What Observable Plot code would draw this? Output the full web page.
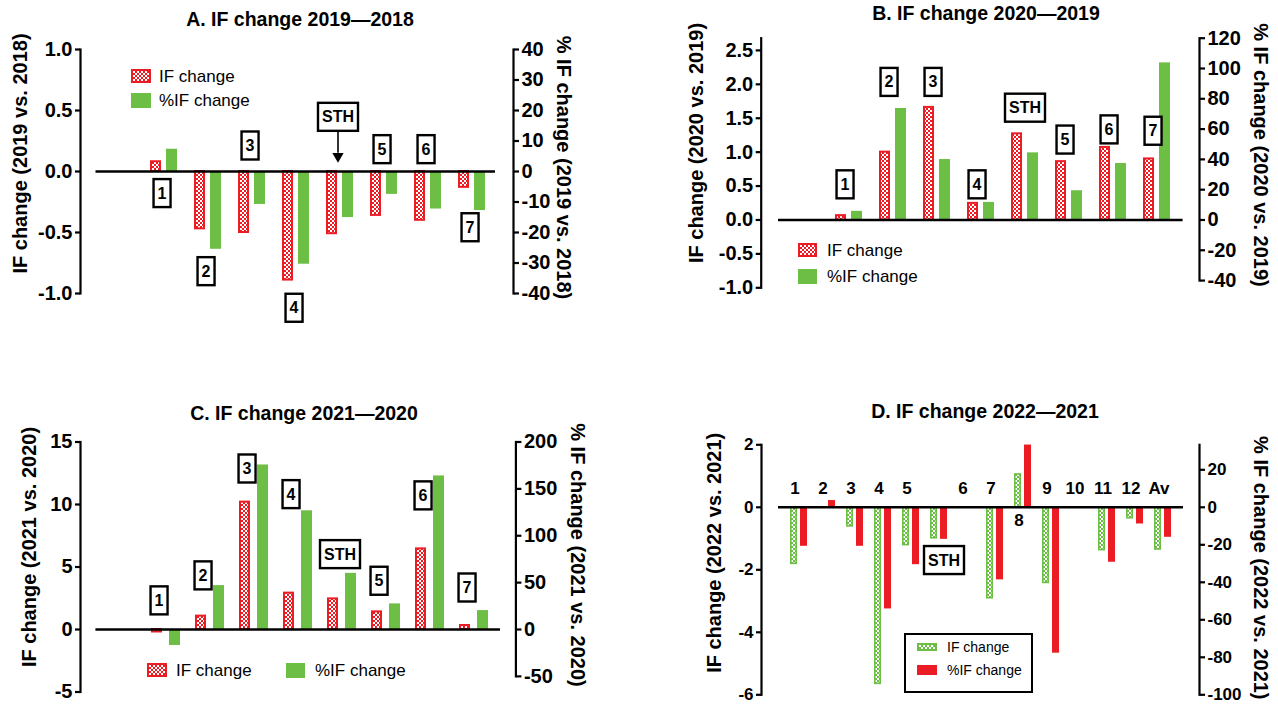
<!DOCTYPE html>
<html><head><meta charset="utf-8">
<script src="https://cdn.jsdelivr.net/npm/d3@7"></script>
<script src="https://cdn.jsdelivr.net/npm/@observablehq/plot@0.6"></script>
<style>
body{margin:0;background:#fff;font-family:"Liberation Sans",Arial,Helvetica,sans-serif;color:#000;}
#page{position:relative;width:1278px;height:706px;overflow:hidden;background:#fff;}
.title{position:absolute;font-weight:bold;font-size:19.5px;white-space:nowrap;transform:translate(-50%,-50%);line-height:1;}
.panel{position:absolute;}
.sw{position:absolute;}
.lt{position:absolute;white-space:nowrap;transform:translateY(-50%);line-height:1;}
</style></head><body>
<svg width="0" height="0" style="position:absolute">
<defs>
<pattern id="chkRed" patternUnits="userSpaceOnUse" width="4" height="4">
<rect width="4" height="4" fill="#ec1c24"/><rect width="2" height="2" fill="#fff"/><rect x="2" y="2" width="2" height="2" fill="#fff"/>
</pattern>
<pattern id="chkGreen" patternUnits="userSpaceOnUse" width="4" height="4">
<rect width="4" height="4" fill="#6cbe45"/><rect width="2" height="2" fill="#fff"/><rect x="2" y="2" width="2" height="2" fill="#fff"/>
</pattern>
</defs></svg>
<div id="page"></div>
<script>
// ---------------- DATA ----------------
// Panel A: IF change 2019—2018
const catsA = ["1","2","3","4","STH","5","6","7"];
const ifChangeA = [0.08,-0.47,-0.50,-0.89,-0.51,-0.36,-0.40,-0.13];
const pctChangeA = [7.3,-25.5,-10.8,-30.4,-15.1,-7.5,-12.3,-12.8];
const boxYA = [-0.18,-0.82,0.21,-1.12,0.445,0.18,0.18,-0.46];
const leftTicksA = [-1,-0.5,0,0.5,1];
const rightTicksA = [-40,-30,-20,-10,0,10,20,30,40];
const arrowA = [{c:"STH", from:0.335, to:0.09}];

// Panel B: IF change 2020—2019
const catsB = ["1","2","3","4","STH","5","6","7"];
const ifChangeB = [0.064,1.00,1.66,0.245,1.27,0.86,1.07,0.90];
const pctChangeB = [5.7,73.6,39.9,11.6,44.3,19.3,37.3,103.7];
const boxYB = [0.52,2.03,2.03,0.52,1.65,1.18,1.33,1.31];
const leftTicksB = [-1,-0.5,0,0.5,1,1.5,2,2.5];
const rightTicksB = [-40,-20,0,20,40,60,80,100,120];

// Panel C: IF change 2021—2020
const catsC = ["1","2","3","4","STH","5","6","7"];
const ifChangeC = [-0.2,1.07,10.19,2.91,2.45,1.41,6.45,0.32];
const pctChangeC = [-17,46.8,175.5,126.6,59.9,27.3,163.8,20.2];
const boxYC = [2.3,4.3,12.85,10.8,6.0,3.87,10.7,3.33];
const leftTicksC = [-5,0,5,10,15];
const rightTicksC = [-50,0,50,100,150,200];

// Panel D: IF change 2022—2021
const catsD = ["1","2","3","4","5","STH","6","7","8","9","10","11","12","Av"];
const ifChangeD = [-1.81,null,-0.61,-5.65,-1.21,-0.99,null,-2.91,1.05,-2.42,null,-1.37,-0.35,-1.35];
const pctChangeD = [-20.8,3.6,-20.8,-54.2,-30.6,-17.1,null,-38.7,33.2,-77.8,null,-29.3,-8.9,-16];
const numLabelsD = ["1","2","3","4","5",null,"6","7","8","9","10","11","12","Av"];
const numLabelYD = [0.6,0.6,0.6,0.6,0.6,null,0.6,0.6,-0.42,0.6,0.6,0.6,0.6,0.6];
const boxYD = [null,null,null,null,null,-1.7,null,null,null,null,null,null,null,null];
const leftTicksD = [-6,-4,-2,0,2];
const rightTicksD = [-100,-80,-60,-40,-20,0,20];

const RED = "#ec1c24", GREEN = "#6cbe45";
const FONT = "Liberation Sans, Arial, Helvetica, sans-serif";
const fmt1 = v => (v < 0 ? "-" : "") + Math.abs(v).toFixed(1);
const fmt0 = v => (Math.round(v) < 0 ? "-" : "") + Math.abs(Math.round(v));

const page = document.getElementById("page");

function makePanel(p) {
  const rows = p.cats.map((c, i) => ({
    c, a: p.ifv[i], b: p.pct[i] == null ? null : p.pct[i] / p.k,
    box: p.boxY ? p.boxY[i] : null,
    lab: p.numLabels ? p.numLabels[i] : null,
    labY: p.numLabelY ? p.numLabelY[i] : null
  }));
  const plotH = p.H - p.mT - p.mB;
  const pxPerUnit = plotH / (p.y[1] - p.y[0]);
  const rightBottom = d3.min(p.rightTicks) / p.k;
  const rightInsetBottom = Math.max(0, (rightBottom - p.y[0]) * pxPerUnit);
  const marks = [
    Plot.barY(rows.filter(d => d.a != null), {x: "c", y: "a", dx: p.offA, fill: p.fillA, stroke: p.strokeA, strokeWidth: p.sw, insetLeft: p.sw/2, insetRight: p.sw/2}),
    Plot.barY(rows.filter(d => d.b != null), {x: "c", y: "b", dx: p.offB, fill: p.fillB}),
    Plot.ruleY([0], {insetLeft: p.xinL, insetRight: p.xinR, strokeWidth: 2.4, stroke: "black"}),
    Plot.frame({anchor: "left", strokeWidth: 2.2, stroke: "black"}),
    Plot.frame({anchor: "right", strokeWidth: 2.2, stroke: "black", insetBottom: rightInsetBottom}),
    Plot.axisY(p.leftTicks, {anchor: "left", tickSize: 5, tickPadding: 3, strokeWidth: 2.2, tickFormat: p.leftFmt, fontSize: p.tickFont, fontWeight: "bold", label: null}),
    Plot.axisY(p.rightTicks.map(r => r / p.k), {anchor: "right", tickSize: 5, tickPadding: 3, strokeWidth: 2.2, tickFormat: v => fmt0(v * p.k), fontSize: p.tickFont, fontWeight: "bold", label: null}),
    Plot.text([p.leftLabel], {text: d => d, frameAnchor: "left", rotate: -90, dx: p.lLab[0], dy: p.lLab[1], fontSize: 20, fontWeight: "bold", textAnchor: "middle", lineAnchor: "middle"}),
    Plot.text([p.rightLabel], {text: d => d, frameAnchor: "right", rotate: 90, dx: p.rLab[0], dy: p.rLab[1], fontSize: 20, fontWeight: "bold", textAnchor: "middle", lineAnchor: "middle"}),
    Plot.text(rows.filter(d => d.box != null && d.c !== "STH"), {x: "c", y: "box", text: "c", dx: p.boxDx, fill: "#010101", fontSize: 16, fontWeight: "bold", lineAnchor: "middle"}),
    Plot.text(rows.filter(d => d.box != null && d.c === "STH"), {x: "c", y: "box", text: "c", dx: p.sthDx, fill: "#010101", fontSize: 16, fontWeight: "bold", lineAnchor: "middle"})
  ];
  if (p.numLabels) {
    marks.push(Plot.text(rows.filter(d => d.lab != null), {x: "c", y: "labY", text: "lab", dx: -4, fontSize: 17, fontWeight: "bold", lineAnchor: "middle"}));
  }
  if (p.arrow) {
    marks.push(Plot.ruleX(p.arrow, {x: "c", y1: "from", y2: d => d.to + 0.06, strokeWidth: 1.6, stroke: "black", dx: p.sthDx}));
    marks.push(Plot.dot(p.arrow, {x: "c", y: d => d.to + 0.035, symbol: "triangle", rotate: 180, r: 4.2, fill: "black", stroke: "none", dx: p.sthDx}));
  }
  const svg = Plot.plot({
    width: p.W, height: p.H,
    marginLeft: p.mL, marginRight: p.mR, marginTop: p.mT, marginBottom: p.mB,
    x: {domain: p.slots, paddingInner: p.pad, paddingOuter: p.pad / 2, insetLeft: p.xinL, insetRight: p.xinR, axis: null},
    y: {domain: p.y, axis: null, label: null},
    style: {fontFamily: FONT, color: "black", background: "transparent", overflow: "visible"},
    marks
  });
  const div = document.createElement("div");
  div.className = "panel";
  div.style.left = p.left + "px";
  div.style.top = p.top + "px";
  div.appendChild(svg);
  page.appendChild(div);
  // boxed labels
  const ns = "http://www.w3.org/2000/svg";
  svg.querySelectorAll('g[fill="#010101"] text').forEach(t => {
    const bb = t.getBBox();
    const r = document.createElementNS(ns, "rect");
    const h = 28, padX = 4;
    r.setAttribute("x", bb.x - padX);
    r.setAttribute("y", bb.y + bb.height / 2 - h / 2);
    r.setAttribute("width", bb.width + 2 * padX);
    r.setAttribute("height", h);
    r.setAttribute("fill", "white");
    r.setAttribute("stroke", "black");
    r.setAttribute("stroke-width", "2.4");
    if (t.getAttribute("transform")) r.setAttribute("transform", t.getAttribute("transform"));
    t.parentNode.insertBefore(r, t);
  });
  // title
  const tt = document.createElement("div");
  tt.className = "title";
  tt.textContent = p.title;
  tt.style.left = p.titlePos[0] + "px";
  tt.style.top = p.titlePos[1] + "px";
  page.appendChild(tt);
}

function swatchSvg(fill, stroke, w, h) {
  const s = stroke ? `stroke="${stroke}" stroke-width="2"` : "";
  const o = stroke ? 1 : 0;
  return `<svg width="${w}" height="${h}" style="display:block"><rect x="${o}" y="${o}" width="${w - 2*o}" height="${h - 2*o}" fill="${fill}" ${s}/></svg>`;
}
function legendItem(x, yc, w, h, fill, stroke, tx, text, fs) {
  const s = document.createElement("div");
  s.className = "sw";
  s.style.left = x + "px"; s.style.top = (yc - h / 2) + "px";
  s.innerHTML = swatchSvg(fill, stroke, w, h);
  page.appendChild(s);
  const t = document.createElement("div");
  t.className = "lt";
  t.style.left = tx + "px"; t.style.top = yc + "px"; t.style.fontSize = fs + "px";
  t.textContent = text;
  page.appendChild(t);
}

// ---------------- PANELS ----------------
makePanel({
  title: "A. IF change 2019\u20142018", titlePos: [300, 20],
  left: 0, top: 0, W: 640, H: 330, mL: 80, mR: 127, mT: 49, mB: 37,
  slots: ["", ...catsA], cats: catsA, ifv: ifChangeA, pct: pctChangeA, boxY: boxYA,
  k: 40, y: [-1, 1], leftTicks: leftTicksA, rightTicks: rightTicksA, leftFmt: fmt1, tickFont: 20,
  pad: 0.752, xinL: 15.5, xinR: 18, offA: -8, offB: 8, sw: 2,
  fillA: "url(#chkRed)", strokeA: RED, fillB: GREEN,
  leftLabel: "IF change (2019 vs. 2018)", rightLabel: "% IF change (2019 vs. 2018)",
  lLab: [-60, -18], rLab: [50, -4], boxDx: -2, sthDx: -2, arrow: arrowA
});
makePanel({
  title: "B. IF change 2020\u20142019", titlePos: [986, 14],
  left: 640, top: 0, W: 638, H: 330, mL: 120.7, mR: 79, mT: 37.7, mB: 42.7,
  slots: ["", ...catsB], cats: catsB, ifv: ifChangeB, pct: pctChangeB, boxY: boxYB,
  k: 120 / 2.68, y: [-1, 2.68], leftTicks: leftTicksB, rightTicks: rightTicksB, leftFmt: fmt1, tickFont: 20,
  pad: 0.755, xinL: 17.3, xinR: 16.4, offA: -8, offB: 8, sw: 2,
  fillA: "url(#chkRed)", strokeA: RED, fillB: GREEN,
  leftLabel: "IF change (2020 vs. 2019)", rightLabel: "% IF change (2020 vs. 2019)",
  lLab: [-65, -20], rLab: [61, -8], boxDx: -4, sthDx: 0
});
makePanel({
  title: "C. IF change 2021\u20142020", titlePos: [304, 414],
  left: 0, top: 380, W: 640, H: 326, mL: 80, mR: 124.6, mT: 61.5, mB: 14.5,
  slots: ["", ...catsC], cats: catsC, ifv: ifChangeC, pct: pctChangeC, boxY: boxYC,
  k: 200 / 15, y: [-5, 15], leftTicks: leftTicksC, rightTicks: rightTicksC, leftFmt: fmt0, tickFont: 20,
  pad: 0.755, xinL: 15.4, xinR: 15.4, offA: -9, offB: 9, sw: 2,
  fillA: "url(#chkRed)", strokeA: RED, fillB: GREEN,
  leftLabel: "IF change (2021 vs. 2020)", rightLabel: "% IF change (2021 vs. 2020)",
  lLab: [-51, -20], rLab: [62, -12], boxDx: -7, sthDx: -2
});
makePanel({
  title: "D. IF change 2022\u20142021", titlePos: [985, 412],
  left: 640, top: 380, W: 638, H: 326, mL: 121, mR: 79, mT: 64.3, mB: 11.7,
  slots: catsD, cats: catsD, ifv: ifChangeD, pct: pctChangeD, boxY: boxYD,
  numLabels: numLabelsD, numLabelY: numLabelYD,
  k: 100 / 6, y: [-6, 2], leftTicks: leftTicksD, rightTicks: rightTicksD, leftFmt: fmt0, tickFont: 17,
  pad: 0.748, xinL: 17, xinR: 16, offA: -5, offB: 5, sw: 1.6,
  fillA: "url(#chkGreen)", strokeA: GREEN, fillB: RED,
  leftLabel: "IF change (2022 vs. 2021)", rightLabel: "% IF change (2022 vs. 2021)",
  lLab: [-47, -17], rLab: [61, -2], boxDx: 0, sthDx: 5
});

// ---------------- LEGENDS ----------------
legendItem(131, 76, 20, 14, "url(#chkRed)", RED, 159, "IF change", 17);
legendItem(131, 100, 20, 15, GREEN, null, 159, "%IF change", 17);
legendItem(798, 250, 19, 14, "url(#chkRed)", RED, 827, "IF change", 17);
legendItem(798, 276, 19, 15, GREEN, null, 827, "%IF change", 17);
legendItem(147, 670, 20, 14, "url(#chkRed)", RED, 176, "IF change", 17);
legendItem(286, 670, 19, 15, GREEN, null, 315, "%IF change", 17);
// D legend box
const box = document.createElement("div");
box.style.cssText = "position:absolute;left:904px;top:633px;width:125px;height:56px;border:2.2px solid #000;";
page.appendChild(box);
legendItem(917, 647, 20, 8, "url(#chkGreen)", GREEN, 947, "IF change", 14);
legendItem(917, 670, 20, 10, RED, null, 947, "%IF change", 14);
</script>
</body></html>
